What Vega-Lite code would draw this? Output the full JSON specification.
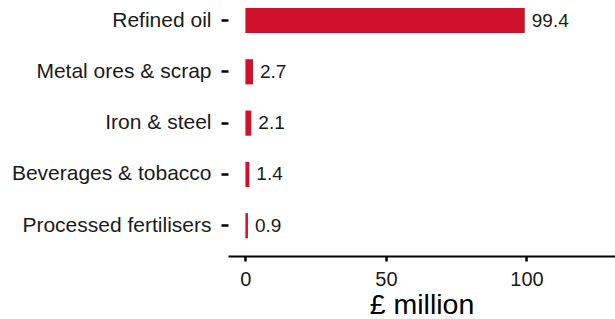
{
  "$schema": "https://vega.github.io/schema/vega-lite/v6.json",
  "width": 387,
  "height": 256,
  "autosize": {"type": "none"},
  "padding": {"left": 228, "top": 0, "right": 0, "bottom": 63},
  "background": "white",
  "config": {
    "view": {"stroke": null},
    "font": "Liberation Sans",
    "text": {"font": "Liberation Sans"}
  },
  "data": {
    "values": [
      {"category": "Refined oil", "value": 99.4, "label": "99.4"},
      {"category": "Metal ores & scrap", "value": 2.7, "label": "2.7"},
      {"category": "Iron & steel", "value": 2.1, "label": "2.1"},
      {"category": "Beverages & tobacco", "value": 1.4, "label": "1.4"},
      {"category": "Processed fertilisers", "value": 0.9, "label": "0.9"}
    ]
  },
  "encoding": {
    "y": {
      "field": "category",
      "type": "nominal",
      "sort": null,
      "scale": {"paddingInner": 0.51, "paddingOuter": 0.25, "align": 0.31},
      "axis": {
        "title": null,
        "domain": false,
        "ticks": true,
        "tickColor": "#000000",
        "tickWidth": 2.5,
        "tickSize": 7,
        "labelFont": "Liberation Sans",
        "labelFontSize": 21,
        "labelColor": "#1a1a1a",
        "labelPadding": 10,
        "labelLimit": 0,
        "grid": false
      }
    }
  },
  "layer": [
    {
      "mark": {"type": "bar", "color": "#D0112B"},
      "encoding": {
        "x": {
          "field": "value",
          "type": "quantitative",
          "scale": {"domain": [-6.2, 131.5], "nice": false, "zero": false},
          "axis": {
            "title": "£ million",
            "titleFont": "Liberation Sans",
            "titleFontSize": 28.5,
            "titleFontWeight": "normal",
            "titleColor": "#000000",
            "titlePadding": 1,
            "values": [0, 50, 100],
            "grid": false,
            "domainColor": "#000000",
            "domainWidth": 2,
            "tickColor": "#000000",
            "tickWidth": 2.5,
            "tickSize": 5,
            "labelFont": "Liberation Sans",
            "labelFontSize": 20,
            "labelColor": "#1a1a1a",
            "labelPadding": 8
          }
        },
        "x2": {"datum": 0}
      }
    },
    {
      "mark": {"type": "text", "align": "left", "baseline": "middle", "dx": 7, "fontSize": 19, "color": "#1a1a1a", "font": "Liberation Sans"},
      "encoding": {
        "x": {"field": "value", "type": "quantitative"},
        "text": {"field": "label"}
      }
    }
  ]
}
